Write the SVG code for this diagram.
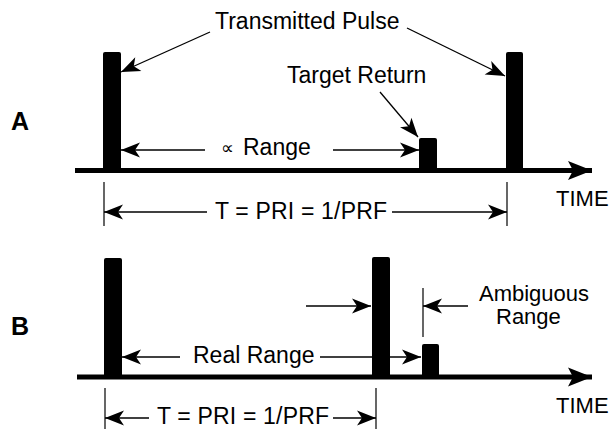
<svg xmlns="http://www.w3.org/2000/svg" width="611" height="429" viewBox="0 0 611 429">
<style>
text{font-family:"Liberation Sans","DejaVu Sans",Arial,sans-serif;font-size:23px;fill:#000}
.lbl{font-weight:bold;font-size:25px}
.time{font-size:22px}
.amb{font-size:22px}
.ln{stroke:#000;stroke-width:1.3;fill:none}
.arr{marker-end:url(#ah)}
.tick{stroke:#000;stroke-width:1.2}
.axis{stroke:#000;stroke-width:5;fill:none;marker-end:url(#big)}
.pulse{fill:#000}
</style>
<defs>
<marker id="ah" markerUnits="userSpaceOnUse" viewBox="-20 -8 21 16" refX="0" refY="0" markerWidth="21" markerHeight="16" orient="auto">
<path d="M0,0 L-19,-7.5 L-14,0 L-19,7.5 Z" fill="#000"/>
</marker>
<marker id="big" markerUnits="userSpaceOnUse" viewBox="-25 -10 26 20" refX="0" refY="0" markerWidth="26" markerHeight="20" orient="auto">
<path d="M0,0 L-24,-9.5 L-19,0 L-24,9.5 Z" fill="#000"/>
</marker>
</defs>
<rect width="611" height="429" fill="#fff"/>

<g id="panelA">
<text class="lbl" x="11" y="130">A</text>
<g id="axisA"><path class="axis" d="M75,170.5 H592"/><text class="time" x="556" y="206">TIME</text></g>
<g id="pulseA1"><rect class="pulse" x="103" y="52" width="18" height="120" rx="2"/></g>
<g id="targetA"><rect class="pulse" x="419" y="138" width="18" height="34" rx="2"/></g>
<g id="pulseA2"><rect class="pulse" x="506" y="52" width="17" height="120" rx="2"/></g>
<g id="labelTransmitted"><text x="215" y="29">Transmitted Pulse</text></g>
<g id="labelTarget"><text x="287" y="83">Target Return</text></g>
<g id="labelRange"><text x="221" y="154"><tspan font-size="18">∝</tspan><tspan x="243" y="155">Range</tspan></text></g>
<g id="labelPRIA"><text x="215" y="219" textLength="172" lengthAdjust="spacing">T = PRI = 1/PRF</text></g>
</g>

<g id="panelB">
<text class="lbl" x="11" y="335">B</text>
<g id="axisB"><path class="axis" d="M77,377 H592"/><text class="time" x="556" y="413">TIME</text></g>
<g id="pulseB1"><rect class="pulse" x="104" y="258" width="18" height="120" rx="2"/></g>
<g id="pulseB2"><rect class="pulse" x="372" y="257" width="18" height="121" rx="2"/></g>
<g id="targetB"><rect class="pulse" x="422" y="344" width="17" height="34" rx="2"/></g>
<g id="labelReal"><text x="193" y="363">Real Range</text></g>
<g id="labelAmbig"><text class="amb" x="479" y="301">Ambiguous</text><text class="amb" x="496" y="324">Range</text></g>
<g id="labelPRIB"><text x="157" y="424" textLength="172" lengthAdjust="spacing">T = PRI = 1/PRF</text></g>
</g>

<g id="connectors">
<line class="ln arr" x1="210" y1="32" x2="121" y2="72"/>
<line class="ln arr" x1="407" y1="28" x2="505" y2="76"/>
<line class="ln arr" x1="380" y1="92" x2="418" y2="137"/>
<line class="ln arr" x1="205" y1="150" x2="121" y2="150"/>
<line class="ln arr" x1="333" y1="150" x2="419" y2="150"/>
<line class="tick" x1="104" y1="182" x2="104" y2="226"/>
<line class="tick" x1="507" y1="182" x2="507" y2="226"/>
<line class="ln arr" x1="207" y1="212" x2="104" y2="212"/>
<line class="ln arr" x1="392" y1="212" x2="507" y2="212"/>

<line class="ln arr" x1="306" y1="306" x2="371" y2="306"/>
<line class="tick" x1="423" y1="288" x2="423" y2="337"/>
<line class="ln arr" x1="468" y1="306" x2="423" y2="306"/>
<line class="ln arr" x1="180" y1="357" x2="122" y2="357"/>
<line class="ln arr" x1="320" y1="357" x2="421" y2="357"/>
<line class="tick" x1="105" y1="388" x2="105" y2="429"/>
<line class="tick" x1="376" y1="388" x2="376" y2="429"/>
<line class="ln arr" x1="149" y1="418" x2="105" y2="418"/>
<line class="ln arr" x1="333" y1="418" x2="376" y2="418"/>
</g>
</svg>
